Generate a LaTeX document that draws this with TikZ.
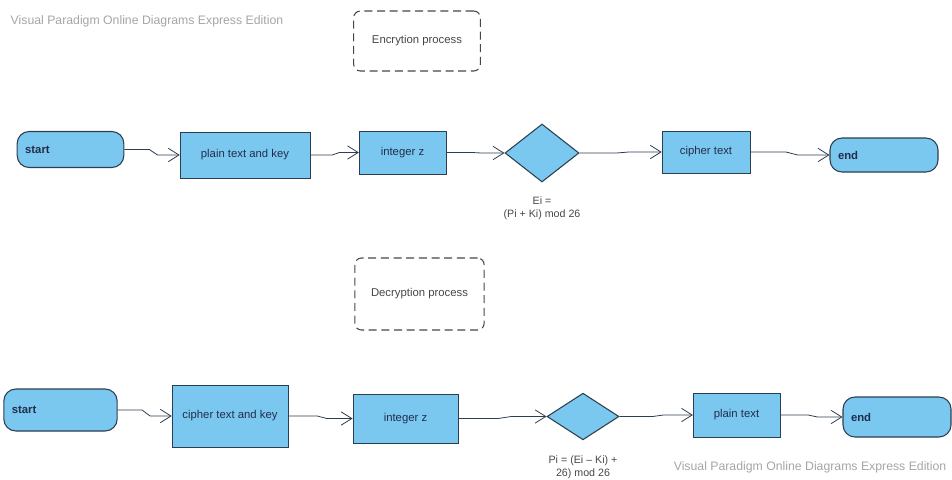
\documentclass[tikz,border=0pt]{standalone}
\usepackage{fontspec}
\setmainfont{Liberation Sans}
\usetikzlibrary{positioning,arrows.meta,shapes.geometric,calc}

\definecolor{vpblue}{RGB}{122,200,240}
\definecolor{vpline}{RGB}{45,62,80}
\definecolor{vptext}{RGB}{35,45,75}
\definecolor{vpnote}{RGB}{70,70,70}
\definecolor{vpmark}{RGB}{165,165,165}

\begin{document}
\begin{tikzpicture}[
  x=0.75pt, y=-0.75pt,
  every node/.style={font=\fontsize{8.5}{10}\selectfont, text=vptext},
  termblk/.style={rectangle, draw=vpline, thick, fill=vpblue,
                  rounded corners=9pt, align=left, inner xsep=6pt,
                  font=\fontsize{8.5}{10}\selectfont\bfseries},
  procblk/.style={rectangle, draw=vpline, fill=vpblue, align=center},
  decblk/.style={diamond, draw=vpline, thick, fill=vpblue, inner sep=0pt},
  noteblk/.style={rectangle, draw=vpnote, thick, dash pattern=on 6pt off 3.5pt,
                  rounded corners=5pt, text=vpnote},
  formula/.style={align=center, font=\fontsize{8}{9.8}\selectfont, text=vpnote},
  markline/.style={text=vpmark, font=\fontsize{9.2}{11}\selectfont},
  flowarrow/.style={-{Straight Barb[length=8pt,width=10pt]}, draw=vpline, semithick},
  jog/.style={to path={let \p1=(\tikztostart), \p2=(\tikztotarget) in
              -- ({\x1+0.45*(\x2-\x1)},\y1) -- ({\x1+0.6*(\x2-\x1)},\y2)
              -- (\tikztotarget) \tikztonodes}}
]
\useasboundingbox (0,0) rectangle (952,479);

% watermarks
\node[markline, anchor=west] (markA) at (6,21)    {Visual Paradigm Online Diagrams Express Edition};
\node[markline, anchor=east] (markB) at (951,467) {Visual Paradigm Online Diagrams Express Edition};

% encryption row
\node[noteblk, minimum width=95pt, minimum height=45pt] (encnote) at (417,41) {Encrytion process};
\node[termblk, text width=68pt, minimum height=27pt]     (estart)  at (70.5,149.5) {start};
\node[procblk, minimum width=97.5pt, minimum height=34.5pt] (eplain) at (245,155) {plain text and key};
\node[procblk, minimum width=65pt, minimum height=32pt]   (eint)    at (402.5,152.5) {integer z};
\node[decblk, minimum width=55.5pt, minimum height=43.5pt] (edec)   at (542,153) {};
\node[formula, below=7pt of edec]                         (eform)   {Ei =\\(Pi + Ki) mod 26};
\node[procblk, minimum width=66pt, minimum height=31.5pt] (ecipher) at (706,152) {cipher text};
\node[termblk, text width=69pt, minimum height=25.5pt]   (eend)    at (884,155) {end};

\draw[flowarrow] (estart.east) to[jog] (eplain.west);
\draw[flowarrow] (eplain.east) to[jog] (eint.west);
\draw[flowarrow] (eint.east)   to[jog] (edec.west);
\draw[flowarrow] (edec.east)   to[jog] (ecipher.west);
\draw[flowarrow] (ecipher.east) to[jog] (eend.west);

% decryption row
\node[noteblk, minimum width=97pt, minimum height=54pt] (decnote) at (419.5,294) {Decryption process};
\node[termblk, text width=73pt, minimum height=31.5pt]   (dstart)  at (60.5,410) {start};
\node[procblk, minimum width=87pt, minimum height=46.5pt] (dcipher) at (230,416) {cipher text and key};
\node[procblk, minimum width=79pt, minimum height=37pt]   (dint)    at (405.5,418.5) {integer z};
\node[decblk, minimum width=54pt, minimum height=35pt]    (ddec)    at (583,416.5) {};
\node[formula, below=8pt of ddec]                         (dform)   {Pi = (Ei -- Ki) +\\26) mod 26};
\node[procblk, minimum width=65pt, minimum height=33pt]   (dplain)  at (736.5,415) {plain text};
\node[termblk, text width=69pt, minimum height=30pt]     (dend)    at (897,417) {end};

\draw[flowarrow] (dstart.east)  to[jog] (dcipher.west);
\draw[flowarrow] (dcipher.east) to[jog] (dint.west);
\draw[flowarrow] (dint.east)    to[jog] (ddec.west);
\draw[flowarrow] (ddec.east)    to[jog] (dplain.west);
\draw[flowarrow] (dplain.east)  to[jog] (dend.west);

\end{tikzpicture}
\end{document}
